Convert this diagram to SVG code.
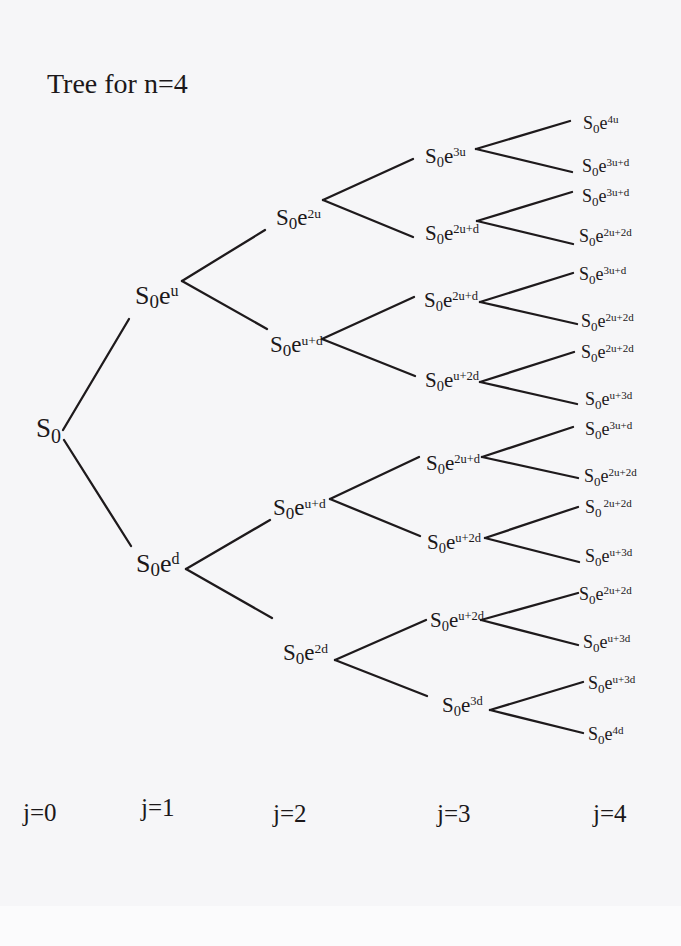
<svg xmlns="http://www.w3.org/2000/svg" width="681" height="946" viewBox="0 0 681 946">
  <style>
    text { font-family: "Liberation Serif", "Times New Roman", serif; fill: #1c181a; }
    .title { font-size: 28px; }
    .jl { font-size: 25px; }
    .l0 { font-size: 27px; } .l0 .sb { font-size: 20px; }
    .l1 { font-size: 26px; } .l1 .sb { font-size: 19px; } .l1 .sp { font-size: 16px; }
    .l2 { font-size: 23px; } .l2 .sb { font-size: 17px; } .l2 .sp { font-size: 13.5px; }
    .l3 { font-size: 21px; } .l3 .sb { font-size: 14.5px; } .l3 .sp { font-size: 12.5px; }
    .l4 { font-size: 18px; } .l4 .sb { font-size: 13px; } .l4 .sp { font-size: 11px; }
    #edges line { stroke: #1e1a1c; stroke-width: 2.3; stroke-linecap: round; }
  </style>

  <!-- paper -->
  <rect x="0" y="0" width="681" height="946" fill="#f6f6f8"/>
  <rect x="0" y="906" width="681" height="40" fill="#fbfbfc"/>

  <text class="title" x="47" y="93">Tree for n=4</text>

  <!-- branches of the binomial tree -->
  <g id="edges">
    <!-- j=0 to j=1 -->
    <line x1="63" y1="430" x2="129" y2="319"/>
    <line x1="64" y1="440" x2="131" y2="546"/>
    <!-- j=1 to j=2 -->
    <line x1="182" y1="281" x2="265" y2="230"/>
    <line x1="182" y1="281" x2="267" y2="329"/>
    <line x1="186" y1="569" x2="270" y2="520"/>
    <line x1="186" y1="569" x2="272" y2="618"/>
    <!-- j=2 to j=3 -->
    <line x1="323" y1="200" x2="413" y2="159"/>
    <line x1="323" y1="200" x2="413" y2="237"/>
    <line x1="322" y1="339" x2="414" y2="297"/>
    <line x1="322" y1="339" x2="415" y2="376"/>
    <line x1="330" y1="499" x2="419" y2="457"/>
    <line x1="330" y1="499" x2="420" y2="536"/>
    <line x1="335" y1="660" x2="426" y2="620"/>
    <line x1="335" y1="660" x2="427" y2="696"/>
    <!-- j=3 to j=4 -->
    <line x1="476" y1="149" x2="570" y2="121"/>
    <line x1="476" y1="149" x2="572" y2="172"/>
    <line x1="477" y1="221" x2="572" y2="192"/>
    <line x1="477" y1="221" x2="573" y2="244"/>
    <line x1="480" y1="302" x2="573" y2="273"/>
    <line x1="480" y1="302" x2="577" y2="324"/>
    <line x1="480" y1="382" x2="574" y2="352"/>
    <line x1="480" y1="382" x2="577" y2="404"/>
    <line x1="482" y1="457" x2="573" y2="427"/>
    <line x1="482" y1="457" x2="578" y2="478"/>
    <line x1="485" y1="538" x2="578" y2="507"/>
    <line x1="485" y1="538" x2="579" y2="562"/>
    <line x1="481" y1="620" x2="578" y2="593"/>
    <line x1="481" y1="620" x2="578" y2="645"/>
    <line x1="490" y1="710" x2="583" y2="682"/>
    <line x1="490" y1="710" x2="583" y2="733"/>
  </g>

  <!-- j=0 -->
  <g id="n0"><text class="l0" x="36" y="437">S<tspan class="sb" dy="6">0</tspan></text></g>

  <!-- j=1 -->
  <g id="n1u"><text class="l1" x="135" y="304">S<tspan class="sb" dy="4">0</tspan><tspan dy="-4">e</tspan><tspan class="sp" dy="-8">u</tspan></text></g>
  <g id="n1d"><text class="l1" x="136" y="572">S<tspan class="sb" dy="4">0</tspan><tspan dy="-4">e</tspan><tspan class="sp" dy="-8">d</tspan></text></g>

  <!-- j=2 -->
  <g id="n2a"><text class="l2" x="276" y="225">S<tspan class="sb" dy="4">0</tspan><tspan dy="-4">e</tspan><tspan class="sp" dy="-7">2u</tspan></text></g>
  <g id="n2b"><text class="l2" x="270" y="352">S<tspan class="sb" dy="4">0</tspan><tspan dy="-4">e</tspan><tspan class="sp" dy="-7">u+d</tspan></text></g>
  <g id="n2c"><text class="l2" x="273" y="515">S<tspan class="sb" dy="4">0</tspan><tspan dy="-4">e</tspan><tspan class="sp" dy="-7">u+d</tspan></text></g>
  <g id="n2d"><text class="l2" x="283" y="660">S<tspan class="sb" dy="4">0</tspan><tspan dy="-4">e</tspan><tspan class="sp" dy="-7">2d</tspan></text></g>

  <!-- j=3 -->
  <g id="n3a"><text class="l3" x="425" y="163">S<tspan class="sb" dy="4">0</tspan><tspan dy="-4">e</tspan><tspan class="sp" dy="-7">3u</tspan></text></g>
  <g id="n3b"><text class="l3" x="425" y="240">S<tspan class="sb" dy="4">0</tspan><tspan dy="-4">e</tspan><tspan class="sp" dy="-7">2u+d</tspan></text></g>
  <g id="n3c"><text class="l3" x="424" y="307">S<tspan class="sb" dy="4">0</tspan><tspan dy="-4">e</tspan><tspan class="sp" dy="-7">2u+d</tspan></text></g>
  <g id="n3d"><text class="l3" x="425" y="387">S<tspan class="sb" dy="4">0</tspan><tspan dy="-4">e</tspan><tspan class="sp" dy="-7">u+2d</tspan></text></g>
  <g id="n3e"><text class="l3" x="426" y="470">S<tspan class="sb" dy="4">0</tspan><tspan dy="-4">e</tspan><tspan class="sp" dy="-7">2u+d</tspan></text></g>
  <g id="n3f"><text class="l3" x="427" y="549">S<tspan class="sb" dy="4">0</tspan><tspan dy="-4">e</tspan><tspan class="sp" dy="-7">u+2d</tspan></text></g>
  <g id="n3g"><text class="l3" x="430" y="627">S<tspan class="sb" dy="4">0</tspan><tspan dy="-4">e</tspan><tspan class="sp" dy="-7">u+2d</tspan></text></g>
  <g id="n3h"><text class="l3" x="442" y="712">S<tspan class="sb" dy="4">0</tspan><tspan dy="-4">e</tspan><tspan class="sp" dy="-7">3d</tspan></text></g>

  <!-- j=4 -->
  <g id="n4a"><text class="l4" x="583" y="129">S<tspan class="sb" dy="4">0</tspan><tspan dy="-4">e</tspan><tspan class="sp" dy="-6">4u</tspan></text></g>
  <g id="n4b"><text class="l4" x="582" y="172">S<tspan class="sb" dy="4">0</tspan><tspan dy="-4">e</tspan><tspan class="sp" dy="-6">3u+d</tspan></text></g>
  <g id="n4c"><text class="l4" x="582" y="202">S<tspan class="sb" dy="4">0</tspan><tspan dy="-4">e</tspan><tspan class="sp" dy="-6">3u+d</tspan></text></g>
  <g id="n4d"><text class="l4" x="579" y="242">S<tspan class="sb" dy="4">0</tspan><tspan dy="-4">e</tspan><tspan class="sp" dy="-6">2u+2d</tspan></text></g>
  <g id="n4e"><text class="l4" x="579" y="280">S<tspan class="sb" dy="4">0</tspan><tspan dy="-4">e</tspan><tspan class="sp" dy="-6">3u+d</tspan></text></g>
  <g id="n4f"><text class="l4" x="581" y="327">S<tspan class="sb" dy="4">0</tspan><tspan dy="-4">e</tspan><tspan class="sp" dy="-6">2u+2d</tspan></text></g>
  <g id="n4g"><text class="l4" x="581" y="358">S<tspan class="sb" dy="4">0</tspan><tspan dy="-4">e</tspan><tspan class="sp" dy="-6">2u+2d</tspan></text></g>
  <g id="n4h"><text class="l4" x="585" y="405">S<tspan class="sb" dy="4">0</tspan><tspan dy="-4">e</tspan><tspan class="sp" dy="-6">u+3d</tspan></text></g>
  <g id="n4i"><text class="l4" x="585" y="435">S<tspan class="sb" dy="4">0</tspan><tspan dy="-4">e</tspan><tspan class="sp" dy="-6">3u+d</tspan></text></g>
  <g id="n4j"><text class="l4" x="584" y="482">S<tspan class="sb" dy="4">0</tspan><tspan dy="-4">e</tspan><tspan class="sp" dy="-6">2u+2d</tspan></text></g>
  <g id="n4k"><text class="l4" x="585" y="513">S<tspan class="sb" dy="4">0</tspan><tspan class="sp" dx="2" dy="-10">2u+2d</tspan></text></g>
  <g id="n4l"><text class="l4" x="585" y="562">S<tspan class="sb" dy="4">0</tspan><tspan dy="-4">e</tspan><tspan class="sp" dy="-6">u+3d</tspan></text></g>
  <g id="n4m"><text class="l4" x="579" y="600">S<tspan class="sb" dy="4">0</tspan><tspan dy="-4">e</tspan><tspan class="sp" dy="-6">2u+2d</tspan></text></g>
  <g id="n4n"><text class="l4" x="583" y="648">S<tspan class="sb" dy="4">0</tspan><tspan dy="-4">e</tspan><tspan class="sp" dy="-6">u+3d</tspan></text></g>
  <g id="n4o"><text class="l4" x="588" y="689">S<tspan class="sb" dy="4">0</tspan><tspan dy="-4">e</tspan><tspan class="sp" dy="-6">u+3d</tspan></text></g>
  <g id="n4p"><text class="l4" x="588" y="740">S<tspan class="sb" dy="4">0</tspan><tspan dy="-4">e</tspan><tspan class="sp" dy="-6">4d</tspan></text></g>

  <!-- step labels -->
  <g id="steps">
    <text class="jl" x="23" y="821">j=0</text>
    <text class="jl" x="141" y="816">j=1</text>
    <text class="jl" x="273" y="822">j=2</text>
    <text class="jl" x="437" y="822">j=3</text>
    <text class="jl" x="593" y="822">j=4</text>
  </g>
</svg>
